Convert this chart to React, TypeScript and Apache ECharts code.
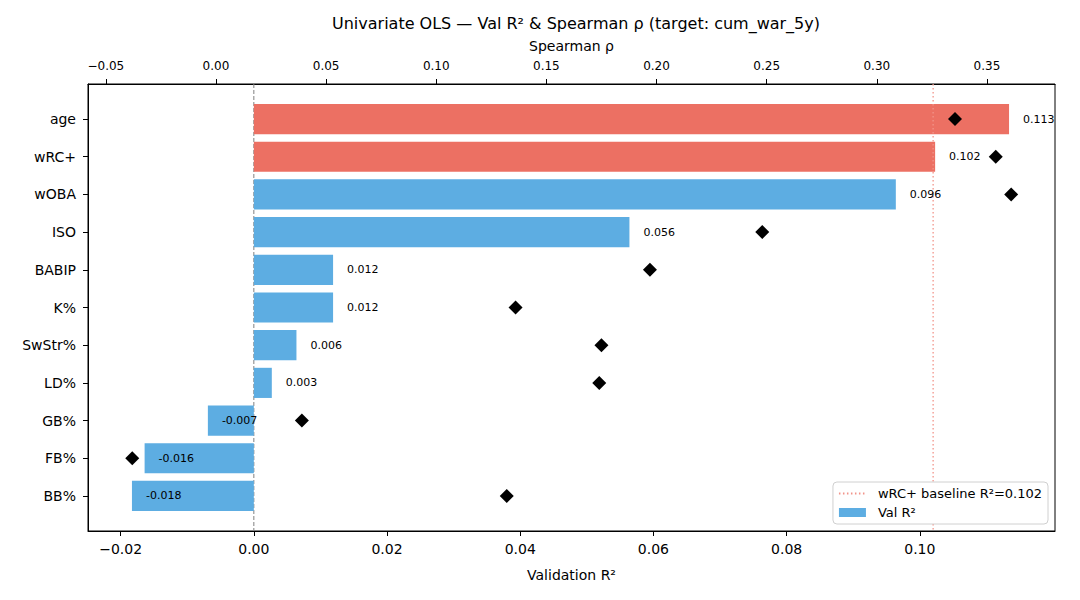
import React, { useEffect, useRef } from "react";
import * as echarts from "echarts";

const categories = ["age", "wRC+", "wOBA", "ISO", "BABIP", "K%", "SwStr%", "LD%", "GB%", "FB%", "BB%"];
const valR2 = [0.1134, 0.1023, 0.0964, 0.0564, 0.0119, 0.0119, 0.0064, 0.0027, -0.0069, -0.0164, -0.0183];
const spearman = [0.3355, 0.354, 0.361, 0.248, 0.197, 0.136, 0.175, 0.174, 0.039, -0.038, 0.132];
const highlighted = ["age", "wRC+"];
const baselineR2 = 0.102;
const bottomTicks = [-0.02, 0, 0.02, 0.04, 0.06, 0.08, 0.1];
const topTicks = [-0.05, 0, 0.05, 0.1, 0.15, 0.2, 0.25, 0.3, 0.35];
const catIdx = categories.map((_, i) => i);

const RED = "#EC7063";
const BLUE = "#5DADE2";
const FONT = "DejaVu Sans";
const YMIN = -0.93;
const YMAX = 10.93;

const fmt = (v: number) => {
  const s = v.toFixed(2);
  return s.startsWith("-") ? "\u2212" + s.slice(1) : s;
};

export default function App() {
  const ref = useRef<HTMLDivElement>(null);
  useEffect(() => {
    if (!ref.current) return;
    const chart = echarts.init(ref.current, null, { renderer: "svg" });
    const barData = valR2.map((v, i) => [v, i]);
    chart.setOption({
      animation: false,
      textStyle: { fontFamily: FONT },
      title: {
        text: "Univariate OLS \u2014 Val R\u00b2 & Spearman \u03c1 (target: cum_war_5y)",
        left: 571,
        top: 10,
        textAlign: "center",
        textStyle: { fontFamily: FONT, fontSize: 16, fontWeight: "normal", color: "#000" },
      },
      grid: {
        left: 88,
        right: 25,
        top: 84,
        bottom: 69,
        show: true,
        borderColor: "#000",
        borderWidth: 1,
        backgroundColor: "transparent",
      },
      legend: {
        orient: "vertical",
        right: 32,
        bottom: 76,
        align: "left",
        backgroundColor: "#fff",
        borderColor: "#d0d0d0",
        borderWidth: 1,
        borderRadius: 4,
        padding: [5, 6, 5, 5],
        itemWidth: 27,
        itemHeight: 9,
        itemGap: 6,
        textStyle: { fontFamily: FONT, fontSize: 13, color: "#000", padding: [0, 0, 0, 7] },
        data: [
          { name: "wRC+ baseline R\u00b2=0.102", itemStyle: { opacity: 0 } },
          { name: "Val R\u00b2", icon: "rect" },
        ],
      },
      xAxis: [
        {
          type: "value",
          position: "bottom",
          min: -0.0249,
          max: 0.1203,
          name: "Validation R\u00b2",
          nameLocation: "middle",
          nameGap: 37,
          nameTextStyle: { fontFamily: FONT, fontSize: 14, color: "#000" },
          axisLine: { show: true, onZero: false, lineStyle: { color: "#000" } },
          axisTick: { show: true, length: 5, customValues: bottomTicks, lineStyle: { color: "#000" } },
          axisLabel: { customValues: bottomTicks, formatter: fmt, fontFamily: FONT, fontSize: 14, color: "#000", margin: 11 },
          splitLine: { show: false },
        },
        {
          type: "value",
          position: "top",
          min: -0.0581,
          max: 0.3809,
          name: "Spearman \u03c1",
          nameLocation: "middle",
          nameGap: 31,
          nameTextStyle: { fontFamily: FONT, fontSize: 14, color: "#000" },
          axisLine: { show: true, onZero: false, lineStyle: { color: "#000" } },
          axisTick: { show: true, length: 5, customValues: topTicks, lineStyle: { color: "#000" } },
          axisLabel: { customValues: topTicks, formatter: fmt, fontFamily: FONT, fontSize: 12, color: "#000", margin: 12 },
          splitLine: { show: false },
        },
      ],
      yAxis: [
        {
          type: "value",
          inverse: true,
          min: YMIN,
          max: YMAX,
          axisLine: { show: true, onZero: false, lineStyle: { color: "#000" } },
          axisTick: { show: true, length: 5, customValues: catIdx, lineStyle: { color: "#000" } },
          axisLabel: {
            customValues: catIdx,
            formatter: (v: number) => categories[Math.round(v)] ?? "",
            fontFamily: FONT,
            fontSize: 14,
            color: "#000",
            margin: 12,
          },
          splitLine: { show: false },
        },
      ],
      series: [
        {
          type: "line",
          name: "zero",
          xAxisIndex: 0,
          yAxisIndex: 0,
          data: [[0, YMIN], [0, YMAX]],
          symbol: "none",
          silent: true,
          lineStyle: { color: "#808080", width: 1, type: [4, 2] },
          z: 1,
        },
        {
          type: "custom",
          name: "Val R\u00b2",
          xAxisIndex: 0,
          yAxisIndex: 0,
          data: barData,
          encode: { x: 0, y: 1 },
          itemStyle: { color: BLUE },
          z: 2,
          renderItem: (params: any, api: any) => {
            const v = api.value(0);
            const idx = api.value(1);
            const p0 = api.coord([0, idx]);
            const p1 = api.coord([v, idx]);
            const h = api.size([0, 0.8])[1];
            const color = highlighted.includes(categories[idx]) ? RED : BLUE;
            return {
              type: "rect",
              shape: { x: Math.min(p0[0], p1[0]), y: p0[1] - h / 2, width: Math.abs(p1[0] - p0[0]), height: h },
              style: { fill: color },
            };
          },
        },
        {
          type: "line",
          name: "wRC+ baseline R\u00b2=0.102",
          xAxisIndex: 0,
          yAxisIndex: 0,
          data: [[baselineR2, YMIN], [baselineR2, YMAX]],
          symbol: "circle",
          showSymbol: false,
          silent: true,
          itemStyle: { color: "transparent", borderColor: "transparent" },
          lineStyle: { color: "#F1948A", width: 1.3, type: [1.5, 2.5] },
          z: 3,
        },
        {
          type: "custom",
          name: "labels",
          xAxisIndex: 0,
          yAxisIndex: 0,
          data: barData,
          encode: { x: 0, y: 1 },
          z: 4,
          renderItem: (params: any, api: any) => {
            const v = api.value(0);
            const idx = api.value(1);
            const p1 = api.coord([v, idx]);
            return {
              type: "text",
              x: p1[0] + 14,
              y: p1[1],
              style: {
                text: v.toFixed(3),
                fill: "#000",
                fontFamily: FONT,
                fontSize: 11,
                align: "left",
                verticalAlign: "middle",
              },
            };
          },
        },
        {
          type: "scatter",
          name: "Spearman",
          xAxisIndex: 1,
          yAxisIndex: 0,
          data: spearman.map((v, i) => [v, i]),
          symbol: "diamond",
          symbolSize: [14, 14],
          itemStyle: { color: "#000", opacity: 1 },
          z: 5,
        },
      ],
    });
    return () => chart.dispose();
  }, []);
  return <div ref={ref} style={{ width: 1080, height: 600, position: "absolute", left: 0, top: 0 }} />;
}
